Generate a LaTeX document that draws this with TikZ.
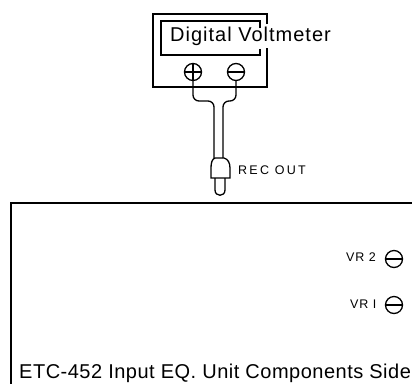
\documentclass[tikz,border=0pt]{standalone}
\usepackage{fontspec}
\setmainfont{Liberation Sans}
\newfontfamily\wideA[LetterSpace=5]{Liberation Sans}
\newfontfamily\wideB[LetterSpace=2.5]{Liberation Sans}
\newfontfamily\wideC[LetterSpace=18]{Liberation Sans}
\newfontfamily\wideD[LetterSpace=7]{Liberation Sans}
\tikzset{
  x=1pt,y=-1pt,
  line/.style={draw=black,line width=1.7pt},
  thin line/.style={draw=black,line width=1.3pt},
  jack/.style={circle,draw=black,line width=1.3pt,minimum size=17pt,inner sep=0pt},
  lbl/.style={inner sep=0pt,anchor=west,text=black}
}
\newcommand{\fs}[1]{\fontsize{#1}{#1}\selectfont}
\begin{document}
\begin{tikzpicture}
\useasboundingbox (0,0) rectangle (412,384);
% voltmeter
\draw[line] (267,24) -- (267,14) -- (153,14) -- (153,87) -- (267,87) -- (267,48);
\draw[thin line] (260,28) -- (260,21) -- (161,21) -- (161,55) -- (260,55) -- (260,49);
\node[lbl,font=\wideA\fs{20}] (dv) at (170,36) {Digital Voltmeter};
\node[jack] (plus) at (193,72) {};
\node[jack] (minus) at (236,72) {};
\draw[line width=1.2pt] (plus.west) -- (plus.east) (plus.north) -- (plus.south);
\draw[line width=1.2pt] (minus.west) -- (minus.east);
% plug
\coordinate (pl) at (214,158);
\coordinate (pr) at (223,158);
\draw[thin line,rounded corners=6pt] (plus.south) -- (193,101) -- (214,101) -- (pl);
\draw[thin line,rounded corners=6pt] (minus.south) -- (236,101) -- (223,101) -- (pr);
\draw[thin line] (215,158) .. controls (212,159) and (211,163) .. (211,168) -- (211,178) -- (230,178) -- (230,168) .. controls (230,163) and (228,159) .. (224,158) -- cycle;
\draw[thin line] (215,178) -- (215,190) .. controls (215,197) and (225,197) .. (225,190) -- (225,178);
\node[lbl,font=\wideC\fs{12.5}] (rec) at (238,170) {REC OUT};
% unit
\draw[line] (412,203) -- (11,203) -- (11,384);
\node[lbl,font=\wideD\fs{12.5}] (vr2) at (346,257) {VR 2};
\node[jack] (vrb) at (394,259) {};
\draw[line width=1.2pt] (vrb.west) -- (vrb.east);
\node[lbl,font=\wideD\fs{12.5}] (vr1) at (350,304) {VR I};
\node[jack] (vra) at (394,305) {};
\draw[line width=1.2pt] (vra.west) -- (vra.east);
\node[lbl,font=\wideB\fs{20}] (etc) at (19,373) {ETC-452 Input EQ. Unit Components Side};
\end{tikzpicture}
\end{document}
